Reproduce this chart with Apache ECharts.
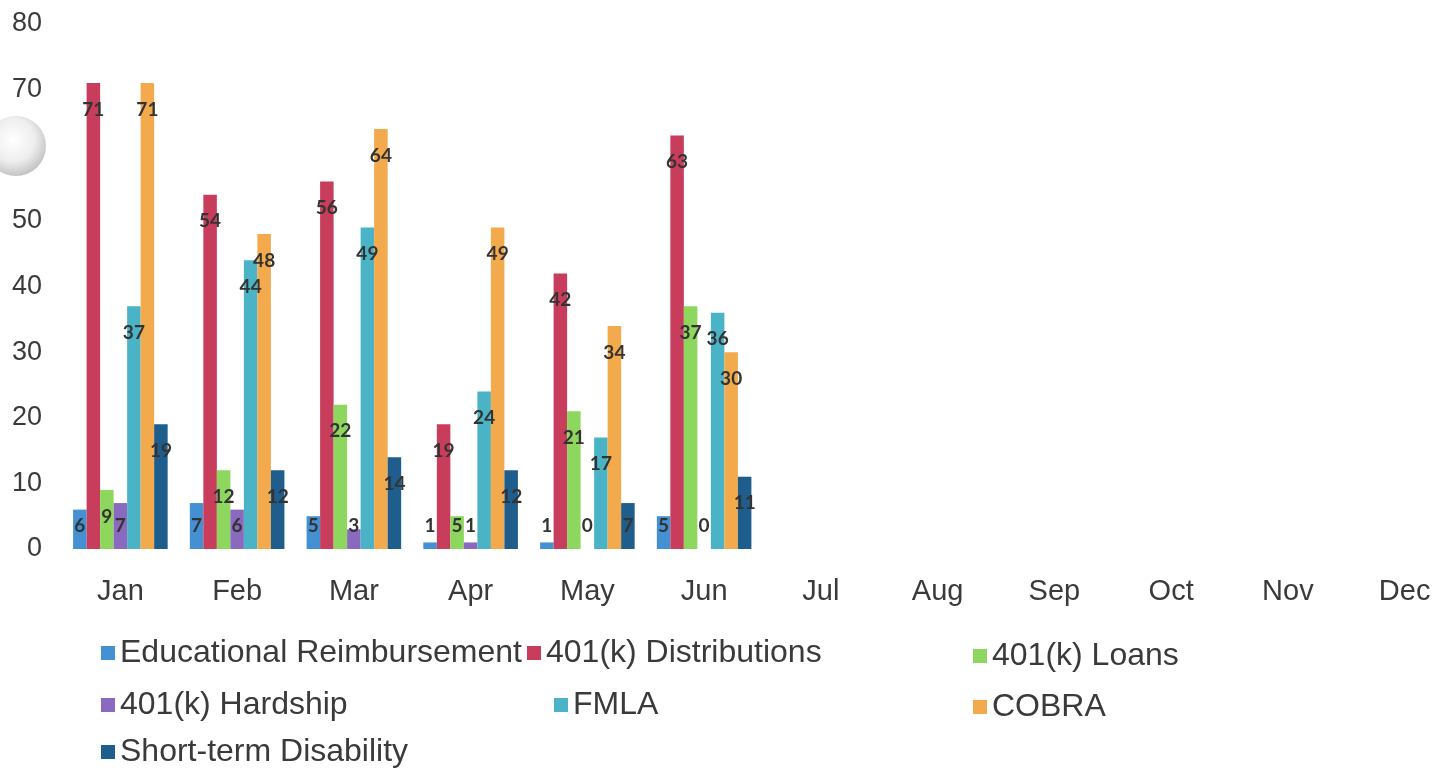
<!DOCTYPE html>
<html>
<head>
<meta charset="utf-8">
<title>HR requests by month</title>
<script src="https://cdn.jsdelivr.net/npm/echarts@6/dist/echarts.min.js"></script>
<style>
    html, body { margin: 0; padding: 0; background: #fff; }
    #chart { width: 1437px; height: 771px; }
</style>
</head>
<body>
<div id="chart"></div>
<script>
// data (only Jan-Jun filled in)
var months = ['Jan', 'Feb', 'Mar', 'Apr', 'May', 'Jun', 'Jul', 'Aug', 'Sep', 'Oct', 'Nov', 'Dec'];
var seriesNames = ['Educational Reimbursement', '401(k) Distributions', '401(k) Loans',
    '401(k) Hardship', 'FMLA', 'COBRA', 'Short-term Disability'];
var eduReimb = [6, 7, 5, 1, 1, 5];
var distributions = [71, 54, 56, 19, 42, 63];
var loans = [9, 12, 22, 5, 21, 37];
var hardship = [7, 6, 3, 1, 0, 0];
var fmla = [37, 44, 49, 24, 17, 36];
var cobra = [71, 48, 64, 49, 34, 30];
var shortTerm = [19, 12, 14, 12, 7, 11];
var yTicks = [0, 10, 20, 30, 40, 50, 60, 70, 80];

var colors = ['#4391d3', '#c83d5c', '#8ed75f', '#8a6abf', '#4ab4c6', '#f2aa4c', '#1f5e8c'];
var textFont = "Arial, 'Liberation Sans', sans-serif";

var HRChart = {
    // small bars get their label parked just above the baseline
    buildData: function (values) {
        return values.map(function (v) {
            if (v <= 7) {
                return { value: v, label: { position: 'insideBottom', distance: 14 } };
            }
            return v;
        });
    },

    buildSeries: function () {
        var all = [eduReimb, distributions, loans, hardship, fmla, cobra, shortTerm];
        return all.map(function (values, i) {
            return {
                name: seriesNames[i],
                type: 'bar',
                barGap: '0%',
                barCategoryGap: '19%',
                itemStyle: { color: colors[i] },
                label: {
                    show: true,
                    position: 'insideTop',
                    distance: 17,
                    color: '#333',
                    fontFamily: 'Lato',
                    fontWeight: 'bold',
                    fontSize: 19
                },
                data: HRChart.buildData(values)
            };
        });
    },

    // legend is laid out like Excel's: three loose columns
    buildLegends: function () {
        var spots = [[101, 637], [527, 637], [973, 640], [101, 689], [554, 689], [973, 691], [101, 736]];
        return seriesNames.map(function (name, i) {
            return {
                data: [name],
                left: spots[i][0],
                top: spots[i][1],
                icon: 'rect',
                itemWidth: 14,
                itemHeight: 14,
                itemGap: 0,
                padding: 0,
                selectedMode: false,
                textStyle: {
                    color: '#3a3a3a',
                    fontFamily: textFont,
                    fontSize: 32
                }
            };
        });
    },

    show: function () {
        var myChart = echarts.init(document.getElementById('chart'));
        var option = {
            animation: false,
            color: colors,
            grid: { left: 62, right: -26, top: 24, bottom: 222, containLabel: false, outerBoundsMode: 'none' },
            xAxis: {
                type: 'category',
                data: months,
                axisLine: { show: false },
                axisTick: { show: false },
                axisLabel: {
                    margin: 28,
                    color: '#3a3a3a',
                    fontFamily: textFont,
                    fontSize: 29
                }
            },
            yAxis: {
                type: 'value',
                min: yTicks[0],
                max: yTicks[yTicks.length - 1],
                interval: 10,
                splitLine: { show: false },
                axisLine: { show: false },
                axisTick: { show: false },
                axisLabel: {
                    margin: 20,
                    color: '#3a3a3a',
                    fontFamily: textFont,
                    fontSize: 27
                }
            },
            legend: HRChart.buildLegends(),
            // the grey ball on the scan's left edge
            graphic: [{
                type: 'circle',
                shape: { cx: 16, cy: 146, r: 30 },
                style: {
                    fill: {
                        type: 'radial', x: 0.45, y: 0.4, r: 0.6,
                        colorStops: [
                            { offset: 0, color: '#ffffff' },
                            { offset: 0.6, color: '#eeeeee' },
                            { offset: 1, color: '#c4c4c4' }
                        ]
                    }
                },
                z: 10
            }],
            series: HRChart.buildSeries()
        };
        myChart.setOption(option);
    }
};

HRChart.show();
</script>
</body>
</html>
